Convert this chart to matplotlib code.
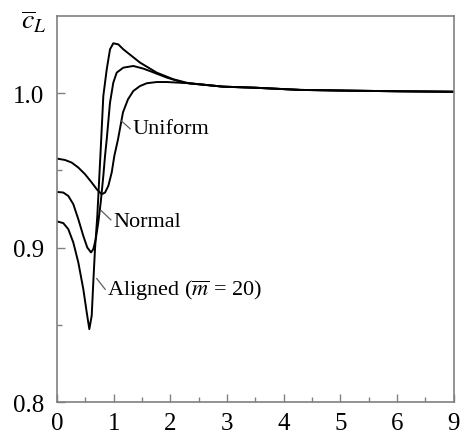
import matplotlib.pyplot as plt

plt.rcParams['font.family'] = ['Liberation Serif', 'DejaVu Serif']
plt.rcParams['mathtext.fontset'] = 'stix'

# values
x_uniform = [0.0, 0.141, 0.259, 0.376, 0.494, 0.612, 0.700, 0.788, 0.847, 0.905, 0.965, 1.011, 1.075,
             1.164, 1.252, 1.346, 1.464, 1.582, 1.758, 1.935, 2.346, 2.52, 2.93, 3.5, 4.29, 5.17, 6.05, 7.0]
y_uniform = [0.9577, 0.9568, 0.9551, 0.9519, 0.9476, 0.9422, 0.9379, 0.9346, 0.9357, 0.9400, 0.9487, 0.9594, 0.9700,
             0.9877, 0.9961, 1.0015, 1.0047, 1.0065, 1.0073, 1.0073, 1.0065, 1.0058, 1.0043, 1.0036, 1.0022, 1.0017,
             1.0013, 1.0010]

x_normal = [0.0, 0.111, 0.199, 0.287, 0.376, 0.464, 0.534, 0.600, 0.640, 0.683, 0.728, 0.771, 0.817, 0.847,
            0.877, 0.935, 0.993, 1.053, 1.169, 1.346, 1.522, 1.640, 1.935, 2.228, 2.52, 2.93, 3.5, 4.29, 5.17,
            6.05, 7.0]
y_normal = [0.9361, 0.9357, 0.9335, 0.9282, 0.9184, 0.9076, 0.9001, 0.8969, 0.8990, 0.9055, 0.9163, 0.9293, 0.9465,
            0.9594, 0.9702, 0.9940, 1.0069, 1.0134, 1.0166, 1.0177, 1.0160, 1.0144, 1.0102, 1.0069, 1.0058, 1.0043,
            1.0036, 1.0022, 1.0017, 1.0013, 1.0010]

x_aligned = [0.0, 0.111, 0.199, 0.287, 0.376, 0.464, 0.524, 0.570, 0.612, 0.640, 0.670, 0.711, 0.741, 0.771,
             0.817, 0.877, 0.935, 0.993, 1.081, 1.169, 1.464, 1.758, 2.051, 2.346, 2.52, 2.93, 3.5, 4.29, 5.17,
             6.05, 7.0]
y_aligned = [0.9170, 0.9159, 0.9120, 0.9034, 0.8904, 0.8731, 0.8581, 0.8472, 0.8559, 0.8775, 0.8990, 0.9206, 0.9422,
             0.9638, 0.9983, 1.0155, 1.0285, 1.0324, 1.0317, 1.0285, 1.0199, 1.0134, 1.0091, 1.0063, 1.0058, 1.0043,
             1.0036, 1.0022, 1.0017, 1.0013, 1.0010]

x_ticks = [0, 1, 2, 3, 4, 5, 6, 7]
x_tick_labels = ['0', '1', '2', '3', '4', '5', '6', '9']
y_ticks = [0.8, 0.9, 1.0]
y_tick_labels = ['0.8', '0.9', '1.0']

fig = plt.figure(figsize=(4.65, 4.39), dpi=100)
ax = fig.add_axes([0.1226, 0.082, 0.8534, 0.879])

for xs, ys in [(x_uniform, y_uniform), (x_normal, y_normal), (x_aligned, y_aligned)]:
    ax.plot(xs, ys, color='black', linewidth=1.4, solid_joinstyle='round')

ax.set_xlim(0, 7)
ax.set_ylim(0.8, 1.05)
ax.set_xticks(x_ticks)
ax.set_xticklabels(x_tick_labels)
ax.set_yticks(y_ticks)
ax.set_yticklabels(y_tick_labels)
ax.set_xticks([0.5 + i for i in range(7)], minor=True)
ax.set_yticks([0.85, 0.95], minor=True)
ax.tick_params(which='major', direction='in', length=6, width=1, color='#808080',
               labelsize=18, pad=7)
ax.tick_params(which='minor', direction='in', length=3.5, width=1, color='#808080')
ax.tick_params(axis='y', pad=9)
for s in ax.spines.values():
    s.set_color('#808080')
    s.set_linewidth(1.2)

# curve labels with short leader lines
labels = [('Uniform', (1.14, 0.982), (1.29, 0.977), (1.34, 0.977)),
          ('Normal', (0.78, 0.924), (0.95, 0.918), (1.0, 0.917)),
          (r'Aligned ($\overline{m}$ = 20)', (0.70, 0.880), (0.85, 0.873), (0.88, 0.873))]
for txt, p0, p1, pt in labels:
    ax.plot([p0[0], p1[0]], [p0[1], p1[1]], color='#606060', linewidth=0.9)
    ax.text(pt[0], pt[1], txt, fontsize=16, va='center', ha='left')

fig.text(0.072, 0.95, r'$\overline{c}_L$', fontsize=20, ha='center', va='center')

fig.savefig('out.png', dpi=100)
